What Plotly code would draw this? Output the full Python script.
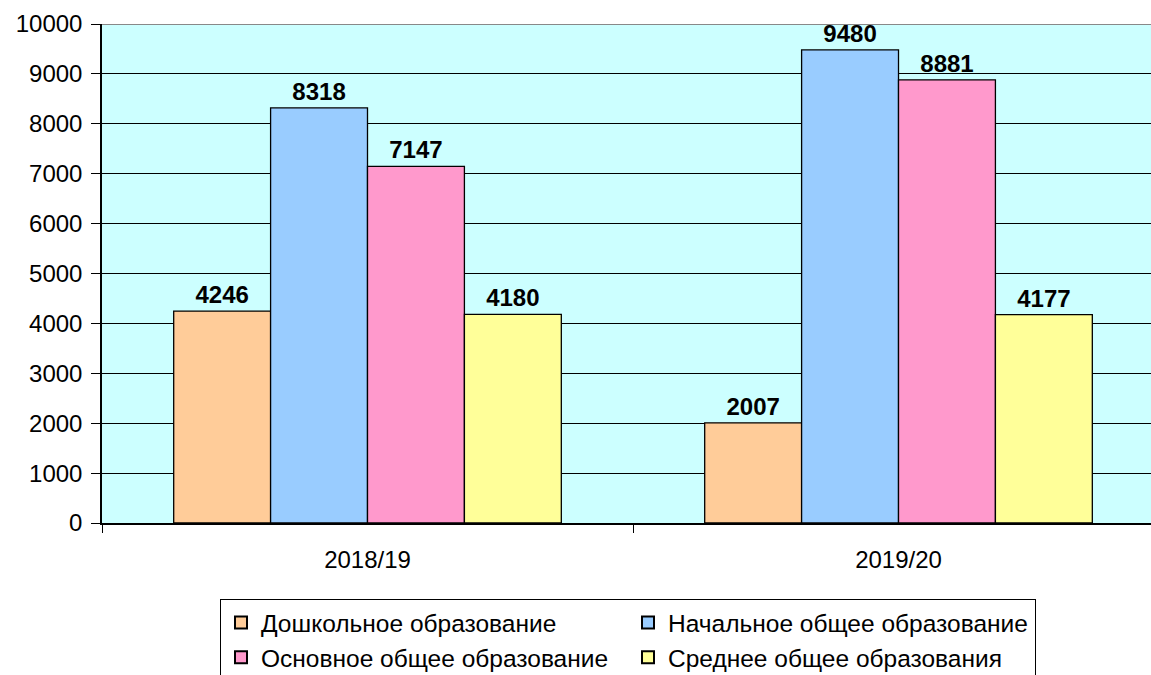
import plotly.graph_objects as go

categories = ["2018/19", "2019/20"]
series_names = ["Дошкольное образование", "Начальное общее образование",
                "Основное общее образование", "Среднее общее образования"]
preschool = [4246, 2007]
primary = [8318, 9480]
basic = [7147, 8881]
secondary = [4180, 4177]
series_values = [preschool, primary, basic, secondary]
colors = ["#FFCC99", "#99CCFF", "#FF99CC", "#FFFF99"]
y_ticks = [0, 1000, 2000, 3000, 4000, 5000, 6000, 7000, 8000, 9000, 10000]

FONT = "Liberation Sans, Arial, sans-serif"

fig = go.Figure()
for name, vals, col in zip(series_names, series_values, colors):
    fig.add_trace(go.Bar(
        x=categories, y=vals, name=name,
        marker=dict(color=col, line=dict(color="black", width=1.3)),
        text=[str(v) for v in vals], textposition="outside",
        textfont=dict(family=FONT, size=24, color="black", weight="bold"),
        cliponaxis=False,
    ))

fig.update_layout(
    width=1151, height=675,
    margin=dict(l=102, r=0, t=24, b=152, autoexpand=False),
    paper_bgcolor="white", plot_bgcolor="#CCFFFF",
    barmode="group", bargap=0.27, bargroupgap=0,
    font=dict(family=FONT, size=24, color="black"),
    showlegend=True,
    legend=dict(
        orientation="h", xref="container", yref="container",
        x=220 / 1151, xanchor="left", y=1 - 599 / 675, yanchor="top",
        entrywidth=362, entrywidthmode="pixels",
        bordercolor="black", borderwidth=1, bgcolor="white",
        font=dict(family=FONT, size=24.5, color="black"),
        itemsizing="constant", tracegroupgap=0,
    ),
)
fig.update_xaxes(
    range=[-0.5, 1.4755], type="category", automargin=False,
    showline=True, linecolor="black", linewidth=1.5,
    ticks="outside", tickson="boundaries", ticklen=8, tickcolor="black",
    tickfont=dict(family=FONT, size=24), ticklabelstandoff=14,
    showgrid=False,
)
fig.update_yaxes(
    range=[0, 10000], tickvals=y_ticks, ticktext=[str(v) for v in y_ticks],
    automargin=False,
    showline=True, linecolor="black", linewidth=1.5,
    ticks="outside", ticklen=9, tickcolor="black",
    tickfont=dict(family=FONT, size=24), ticklabelstandoff=4,
    showgrid=True, gridcolor="black", gridwidth=1,
    zeroline=False,
)
fig.add_shape(type="line", xref="paper", yref="y", x0=0, x1=1, y0=10000, y1=10000,
              line=dict(color="#888888", width=2), layer="above")

fig.write_html("out.html", config={"displayModeBar": False},
               post_script="document.body.style.margin='0';document.body.style.overflow='hidden';")
